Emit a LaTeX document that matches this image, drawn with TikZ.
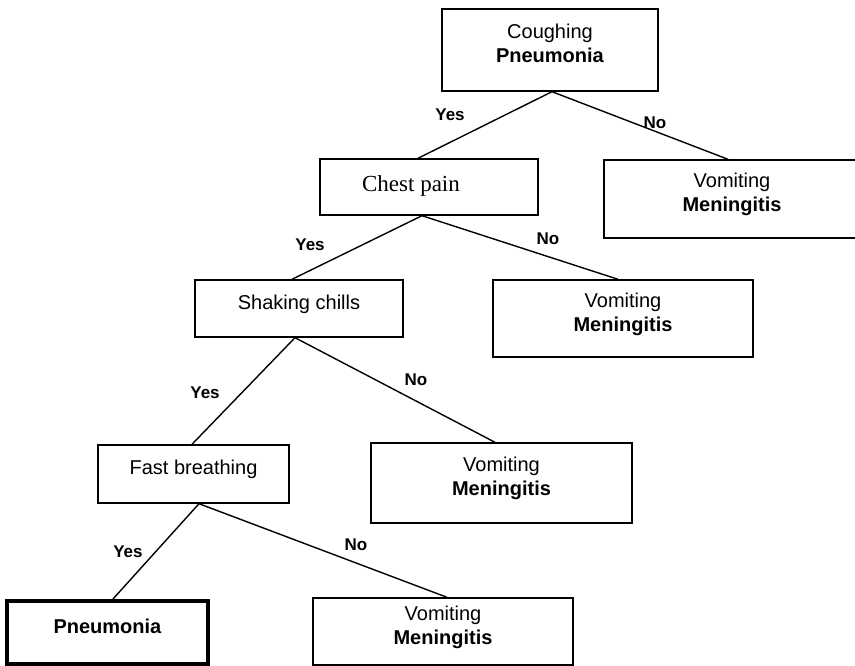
\documentclass[tikz,border=0pt]{standalone}
\usepackage{fontspec}
\setmainfont{Liberation Sans}
\newfontfamily\timesfont{Liberation Serif}

\begin{document}
\begin{tikzpicture}[x=1pt, y=-1pt,
                    box/.style={draw, line width=1.4pt, inner sep=0pt, align=center,
                                text depth=13pt, font=\fontsize{20}{24}\selectfont},
                    answer/.style={font=\fontsize{17}{20}\selectfont\bfseries},
                    branch/.style={line width=1.4pt}]
                    \useasboundingbox (0,0) rectangle (855,666);

                    \node (cough) [box, minimum width=216pt, minimum height=82pt] at (550,50)
                        {Coughing\\\textbf{Pneumonia}};
                    \node (chest) [box, text depth=6pt, minimum width=218pt, minimum height=56pt] at (429,187)
                        {\hspace*{-36pt}\timesfont\fontsize{23}{26}\selectfont Chest pain};
                    \node (vomit1) [box, minimum width=256pt, minimum height=78pt] at (732,199)
                        {Vomiting\\\textbf{Meningitis}};
                    \node (chills) [box, minimum width=208pt, minimum height=57pt] at (299,308.5)
                        {Shaking chills};
                    \node (vomit2) [box, minimum width=260pt, minimum height=77pt] at (623,318.5)
                        {Vomiting\\\textbf{Meningitis}};
                    \node (breath) [box, minimum width=191pt, minimum height=58pt] at (193.5,474)
                        {Fast breathing};
                    \node (vomit3) [box, minimum width=261pt, minimum height=80pt] at (501.5,483)
                        {Vomiting\\\textbf{Meningitis}};
                    \node (pneu) [box, line width=4pt, minimum width=201pt, minimum height=63pt] at (107.5,632.5)
                        {\textbf{Pneumonia}};
                    \node (vomit4) [box, minimum width=260pt, minimum height=67pt] at (443,631.5)
                        {Vomiting\\\textbf{Meningitis}};

                    \draw [branch] ([xshift=2pt]cough.south) -- ([xshift=-11pt]chest.north);
                    \draw [branch] ([xshift=2pt]cough.south) -- ([xshift=-4pt]vomit1.north);
                    \draw [branch] ([xshift=-7pt]chest.south) -- ([xshift=-7pt]chills.north);
                    \draw [branch] ([xshift=-7pt]chest.south) -- ([xshift=-5pt]vomit2.north);
                    \draw [branch] ([xshift=-4pt]chills.south) -- ([xshift=-1.5pt]breath.north);
                    \draw [branch] ([xshift=-4pt]chills.south) -- ([xshift=-6.5pt]vomit3.north);
                    \draw [branch] ([xshift=5.5pt]breath.south) -- ([xshift=5.5pt]pneu.north);
                    \draw [branch] ([xshift=5.5pt]breath.south) -- ([xshift=4pt]vomit4.north);

                    \node (yes1) [answer] at (450,115) {Yes};
                    \node (no1) [answer] at (655,123) {No};
                    \node (yes2) [answer] at (310,245) {Yes};
                    \node (no2) [answer] at (548,239) {No};
                    \node (yes3) [answer] at (205,393) {Yes};
                    \node (no3) [answer] at (416,380) {No};
                    \node (yes4) [answer] at (128,552) {Yes};
                    \node (no4) [answer] at (356,545) {No};
                \end{tikzpicture}
\end{document}
